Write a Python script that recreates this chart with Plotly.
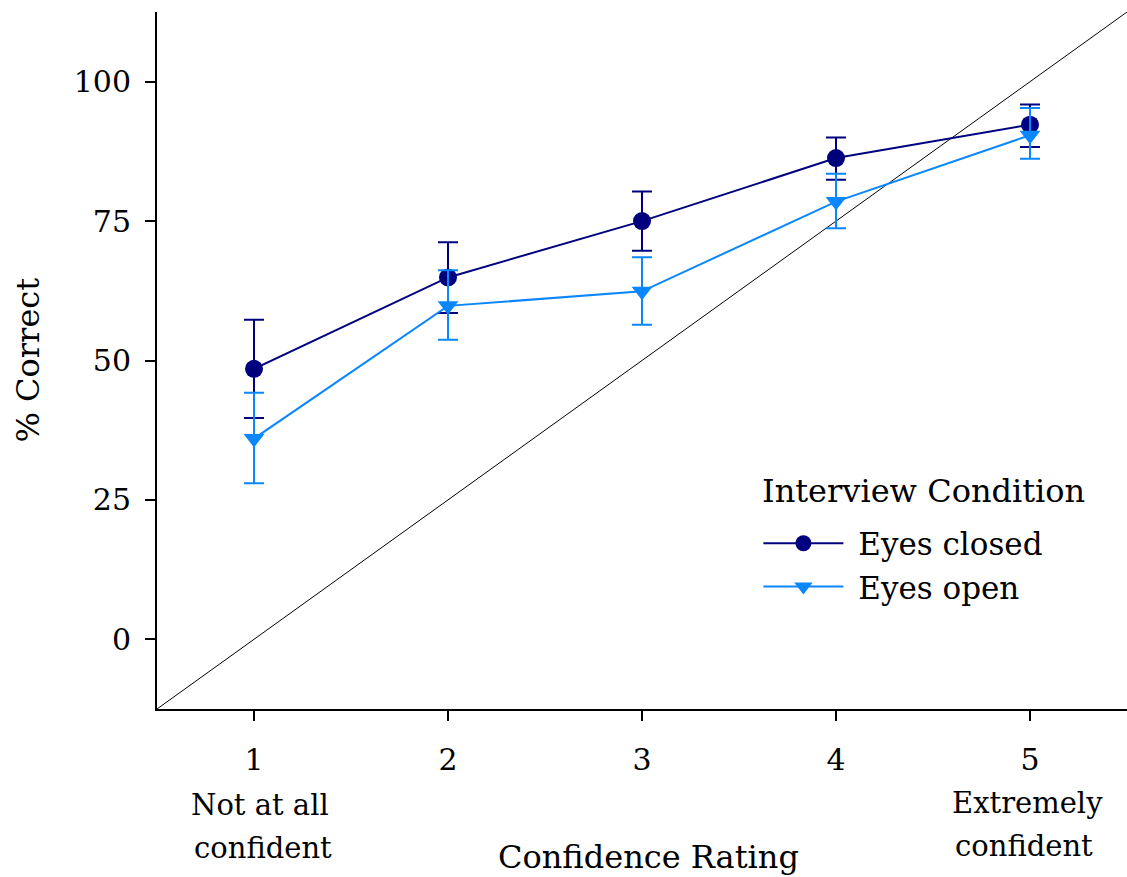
import plotly.graph_objects as go

# Confidence ratings (x) and accuracy by interview condition
ratings = [1, 2, 3, 4, 5]
tick_text = ["1", "2", "3", "4", "5"]

closed_mean = [48.5, 64.9, 75.0, 86.3, 92.3]
closed_upper = [57.3, 71.2, 80.3, 90.0, 95.9]
closed_lower = [39.7, 58.5, 69.7, 82.4, 88.3]

open_mean = [36.0, 59.8, 62.4, 78.5, 90.4]
open_upper = [44.2, 66.2, 68.5, 83.5, 95.3]
open_lower = [28.0, 53.7, 56.4, 73.7, 86.2]

y_ticks = [0, 25, 50, 75, 100]

X_RANGE = [0.5, 5.5]
Y_RANGE = [-12.5, 112.5]

NAVY = "#00007f"
BLUE = "#0a87ff"
FONT = "DejaVu Serif"
TEXT_SIZE = 32
LEGEND_SIZE = 31
NOTE_SIZE = 29
TICK_SIZE = 30


def err_up(mean, upper):
    return [u - m for m, u in zip(mean, upper)]


def err_down(mean, lower):
    return [m - l for m, l in zip(mean, lower)]


fig = go.Figure()

fig.add_trace(go.Scatter(
    x=ratings, y=closed_mean, name="\u00a0Eyes closed", mode="lines+markers",
    line=dict(color=NAVY, width=2),
    marker=dict(symbol="circle", size=18, color=NAVY),
    error_y=dict(type="data", symmetric=False,
                 array=err_up(closed_mean, closed_upper),
                 arrayminus=err_down(closed_mean, closed_lower),
                 color=NAVY, thickness=2, width=10),
))

fig.add_trace(go.Scatter(
    x=ratings, y=open_mean, name="\u00a0Eyes open", mode="lines+markers",
    line=dict(color=BLUE, width=2),
    marker=dict(symbol="triangle-down", size=18, color=BLUE),
    error_y=dict(type="data", symmetric=False,
                 array=err_up(open_mean, open_upper),
                 arrayminus=err_down(open_mean, open_lower),
                 color=BLUE, thickness=2, width=10),
))

# Perfect-calibration diagonal: rating 1 -> 0 %, rating 5 -> 100 %
def calib(r):
    return (r - 1) / 4 * 100

fig.add_shape(type="line", xref="x", yref="y", layer="below",
              x0=X_RANGE[0], y0=calib(X_RANGE[0]),
              x1=X_RANGE[1], y1=calib(X_RANGE[1]),
              line=dict(color="black", width=1))

fig.update_layout(
    width=1127, height=877,
    margin=dict(l=157, r=0, t=12, b=168),
    paper_bgcolor="white", plot_bgcolor="white",
    font=dict(family=FONT, size=TEXT_SIZE, color="black"),
    showlegend=True,
    legend=dict(
        x=0.62, y=0.276, xanchor="left", yanchor="top",
        bgcolor="rgba(0,0,0,0)", itemwidth=80,
        font=dict(size=LEGEND_SIZE), tracegroupgap=0,
    ),
    xaxis=dict(
        range=X_RANGE, tickvals=ratings, ticktext=tick_text,
        tickfont=dict(size=TICK_SIZE),
        showline=True, linecolor="black", linewidth=2,
        ticks="outside", ticklen=10, tickwidth=1.5, tickcolor="black",
        showgrid=False, zeroline=False, ticklabelstandoff=13,
    ),
    yaxis=dict(
        range=Y_RANGE, tickvals=y_ticks,
        tickfont=dict(size=TICK_SIZE),
        showline=True, linecolor="black", linewidth=2,
        ticks="outside", ticklen=10, tickwidth=1.5, tickcolor="black",
        showgrid=False, zeroline=False, ticklabelstandoff=8,
    ),
)

# Legend heading
fig.add_annotation(text="Interview Condition", x=0.62, xref="paper",
                   y=0.313, yref="paper", xanchor="left", yanchor="middle",
                   xshift=2, showarrow=False,
                   font=dict(family=FONT, size=TEXT_SIZE, color="black"))

# Axis title and end-point descriptions
notes = [
    dict(text="Not at all", x=1, dx=6, dy=-96, size=NOTE_SIZE),
    dict(text="confident", x=1, dx=9, dy=-139, size=NOTE_SIZE),
    dict(text="Extremely", x=5, dx=-3, dy=-94, size=NOTE_SIZE),
    dict(text="confident", x=5, dx=-6, dy=-137, size=NOTE_SIZE),
    dict(text="Confidence Rating", x=3, dx=6, dy=-148, size=TEXT_SIZE),
]
for n in notes:
    fig.add_annotation(text=n["text"], x=n["x"], xref="x", y=0, yref="paper",
                       xanchor="center", yanchor="middle",
                       xshift=n["dx"], yshift=n["dy"], showarrow=False,
                       font=dict(family=FONT, size=n["size"], color="black"))

fig.add_annotation(text="% Correct", x=0, xref="paper", y=50, yref="y",
                   xanchor="center", yanchor="middle", xshift=-130,
                   textangle=-90, showarrow=False,
                   font=dict(family=FONT, size=TEXT_SIZE, color="black"))

fig.write_html("out.html")
